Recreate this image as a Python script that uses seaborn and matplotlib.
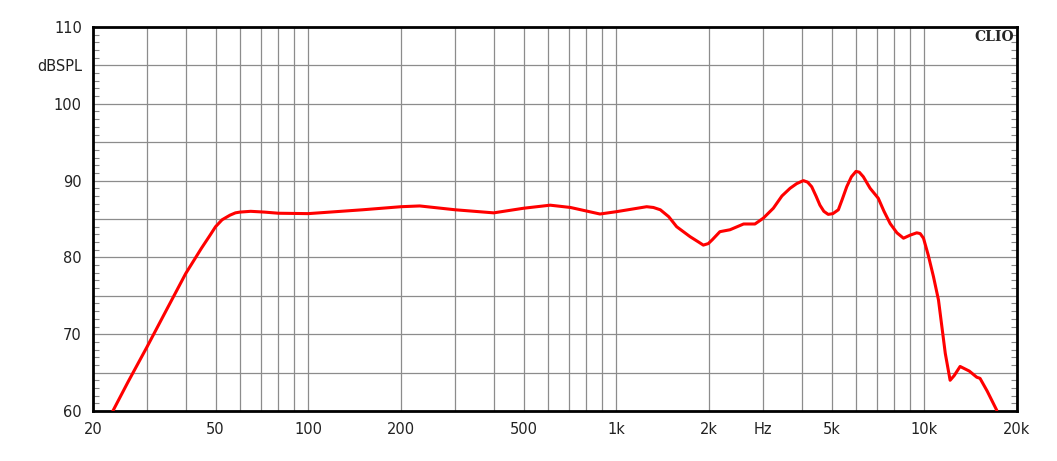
import matplotlib
matplotlib.use("Agg")
import matplotlib.pyplot as plt
import seaborn as sns
import numpy as np
import pandas as pd
from matplotlib.ticker import FixedLocator

# data
freq_hz = [23.2, 26, 30, 35, 40, 45, 48, 50, 52.5, 55.7, 58, 60, 65, 72, 80, 100, 150,
           200, 230, 300, 400, 500, 610, 710, 885, 1000, 1255, 1320, 1390, 1480, 1570,
           1736, 1850, 1917, 1990, 2050, 2170, 2340, 2590, 2820, 3000, 3235, 3450, 3667,
           3850, 4050, 4180, 4310, 4450, 4584, 4720, 4875, 5050, 5260, 5420, 5600, 5800,
           6000, 6150, 6340, 6670, 7090, 7400, 7750, 8150, 8560, 9000, 9450, 9700, 9940,
           10300, 10710, 11120, 11700, 12130, 12500, 13070, 14000, 14800, 15170, 16000,
           17190]
spl_db = [60.0, 63.8, 68.4, 73.5, 77.9, 81.2, 82.9, 84.0, 84.9, 85.5, 85.8, 85.9, 86.0,
          85.9, 85.75, 85.7, 86.2, 86.6, 86.7, 86.2, 85.8, 86.4, 86.8, 86.5, 85.65,
          85.95, 86.6, 86.5, 86.2, 85.3, 84.0, 82.7, 82.0, 81.6, 81.8, 82.3, 83.35, 83.6,
          84.35, 84.35, 85.1, 86.4, 88.0, 89.0, 89.6, 90.0, 89.8, 89.2, 88.0, 86.8, 86.0,
          85.6, 85.7, 86.2, 87.6, 89.2, 90.5, 91.2, 91.1, 90.5, 89.0, 87.7, 86.0, 84.4,
          83.2, 82.5, 82.9, 83.2, 83.1, 82.5, 80.3, 77.5, 74.45, 67.5, 64.0, 64.6, 65.8,
          65.2, 64.4, 64.25, 62.6, 60.1]

x_ticks = [20, 30, 40, 50, 60, 70, 80, 90, 100, 200, 300, 400, 500, 600, 700, 800, 900,
           1000, 2000, 3000, 4000, 5000, 6000, 7000, 8000, 9000, 10000, 20000]
x_labels = {20: "20", 50: "50", 100: "100", 200: "200", 500: "500", 1000: "1k",
            2000: "2k", 3000: "Hz", 5000: "5k", 10000: "10k", 20000: "20k"}
y_ticks = [60, 65, 70, 75, 80, 85, 90, 95, 100, 105, 110]
y_labels = {60: "60", 70: "70", 80: "80", 90: "90", 100: "100", 105: "dBSPL", 110: "110"}

sns.set_style("white")
plt.rcParams['font.family'] = ['DejaVu Sans']

fig = plt.figure(figsize=(10.57, 4.61), dpi=100)
ax = fig.add_axes([93/1057, 50/461, 924/1057, 384/461])

df = pd.DataFrame({"f": freq_hz, "spl": spl_db})
sns.lineplot(data=df, x="f", y="spl", ax=ax, color="#ff0000", linewidth=2.2, zorder=5)

ax.set_xscale("log")
ax.set_xlim(20, 20000)
ax.set_ylim(60, 110)

ax.xaxis.set_major_locator(FixedLocator(x_ticks))
ax.xaxis.set_minor_locator(FixedLocator([]))
ax.set_xticklabels([x_labels.get(t, "") for t in x_ticks])
ax.set_yticks(y_ticks)
ax.set_yticklabels([y_labels.get(t, "") for t in y_ticks])
ax.yaxis.set_minor_locator(FixedLocator(np.arange(60, 111, 1)))

ax.grid(True, which="major", color="#8c8c8c", linewidth=0.9)
ax.tick_params(axis="x", which="major", length=0, pad=8, labelsize=10.5, colors="#222222")
ax.tick_params(axis="y", which="major", length=0, pad=8, labelsize=10.5, colors="#222222")
ax.tick_params(axis="y", which="minor", direction="in", length=4, width=0.8,
               color="#888888", left=True, right=True)
ax.set_xlabel("")
ax.set_ylabel("")

for s in ax.spines.values():
    s.set_visible(True)
    s.set_color("black")
    s.set_linewidth(2.0)

ax.text(0.997, 0.993, "CLIO", transform=ax.transAxes, ha="right", va="top",
        fontsize=10, fontweight="bold", family="DejaVu Serif", zorder=6)

fig.savefig("out.png", dpi=100, facecolor="white")
